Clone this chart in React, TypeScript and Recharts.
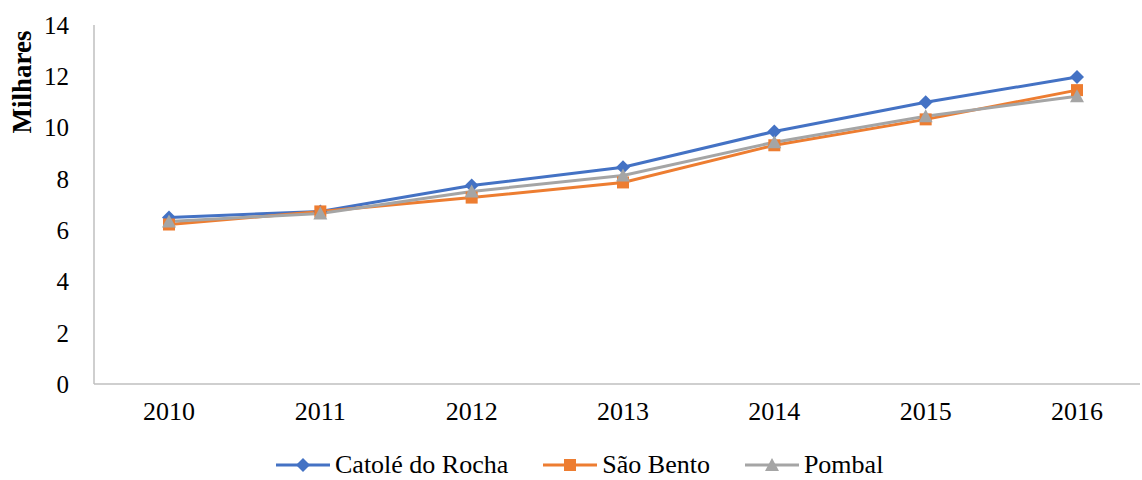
import React from 'react';
import { LineChart, Line, XAxis, YAxis, Legend, Label } from 'recharts';

const years = ['2010', '2011', '2012', '2013', '2014', '2015', '2016'];
const catoleDoRocha = [6.49, 6.73, 7.74, 8.45, 9.85, 10.99, 11.97];
const saoBento = [6.22, 6.73, 7.27, 7.86, 9.31, 10.32, 11.46];
const pombal = [6.34, 6.65, 7.51, 8.13, 9.43, 10.44, 11.22];
const yTicks = [0, 2, 4, 6, 8, 10, 12, 14];

const seriesList = [
  { key: 'catole', name: 'Catolé do Rocha', color: '#4472C4', shape: 'diamond' },
  { key: 'saoBento', name: 'São Bento', color: '#ED7D31', shape: 'square' },
  { key: 'pombal', name: 'Pombal', color: '#A5A5A5', shape: 'triangle' },
];

const chartData = years.map((year, i) => ({
  year,
  catole: catoleDoRocha[i],
  saoBento: saoBento[i],
  pombal: pombal[i],
}));

const FONT = 'Liberation Serif';

function Marker({ cx, cy, shape, color }: { cx: number; cy: number; shape: string; color: string }) {
  if (cx == null || cy == null) return null;
  if (shape === 'diamond') {
    return <path d={`M${cx},${cy - 7} L${cx + 7},${cy} L${cx},${cy + 7} L${cx - 7},${cy} Z`} fill={color} />;
  }
  if (shape === 'square') {
    return <rect x={cx - 6} y={cy - 6} width={12} height={12} fill={color} />;
  }
  return <path d={`M${cx},${cy - 7} L${cx + 7},${cy + 6} L${cx - 7},${cy + 6} Z`} fill={color} />;
}

function LegendContent() {
  return (
    <div style={{ display: 'flex', paddingLeft: 276, fontFamily: FONT, fontSize: 26, color: '#000' }}>
      {seriesList.map((s) => (
        <div key={s.key} style={{ display: 'flex', alignItems: 'center', marginRight: 35 }}>
          <svg width={54} height={16} style={{ marginRight: 5 }}>
            <line x1={0} y1={8} x2={54} y2={8} stroke={s.color} strokeWidth={3} />
            <Marker cx={27} cy={8} shape={s.shape} color={s.color} />
          </svg>
          <span>{s.name}</span>
        </div>
      ))}
    </div>
  );
}

export default function App() {
  return (
    <div style={{ position: 'absolute', left: 0, top: 0, width: 1142, height: 480, background: '#fff', fontFamily: FONT }}>
      <LineChart
        width={1142}
        height={480}
        data={chartData}
        margin={{ top: 25, right: 2, left: 0, bottom: 0 }}
        style={{ fontFamily: FONT }}
      >
        <XAxis
          dataKey="year"
          padding={{ left: 75, right: 63 }}
          tick={{ fill: '#000', fontSize: 26, fontFamily: FONT }}
          tickLine={false}
          axisLine={{ stroke: '#BFBFBF', strokeWidth: 1.5 }}
          tickMargin={12}
          height={66}
        />
        <YAxis
          domain={[0, 14]}
          ticks={yTicks}
          interval={0}
          tick={{ fill: '#000', fontSize: 25, fontFamily: FONT }}
          tickLine={false}
          axisLine={{ stroke: '#BFBFBF', strokeWidth: 1.5 }}
          tickMargin={19}
          width={94}
        >
          <Label
            content={() => (
              <text
                x={31}
                y={82}
                transform="rotate(-90 31 82)"
                textAnchor="middle"
                fontFamily={FONT}
                fontSize={27}
                fontWeight="bold"
                fill="#000"
              >
                Milhares
              </text>
            )}
          />
        </YAxis>
        <Legend verticalAlign="bottom" wrapperStyle={{ left: 0, width: 1142 }} content={<LegendContent />} />
        {seriesList.map((s) => (
          <Line
            key={s.key}
            dataKey={s.key}
            name={s.name}
            stroke={s.color}
            strokeWidth={3}
            isAnimationActive={false}
            dot={(props: any) => (
              <Marker key={`${s.key}-${props.index}`} cx={props.cx} cy={props.cy} shape={s.shape} color={s.color} />
            )}
            activeDot={false}
          />
        ))}
      </LineChart>
    </div>
  );
}
